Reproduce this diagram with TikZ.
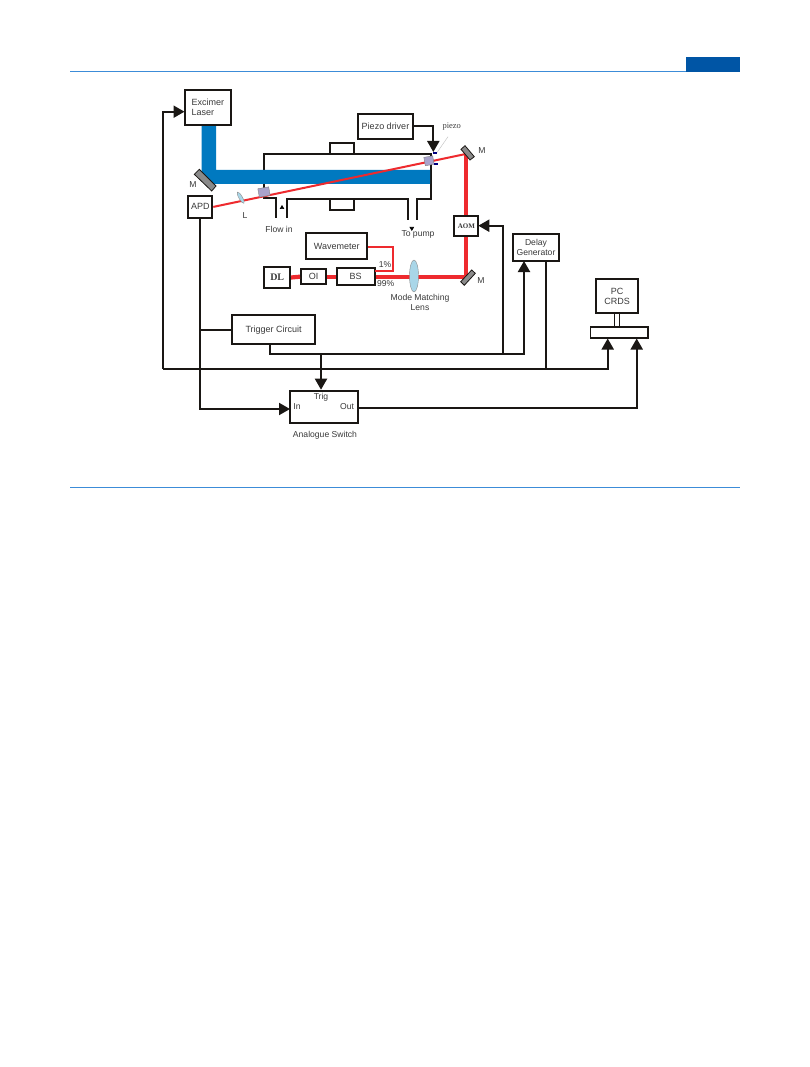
\documentclass[tikz,border=0pt]{standalone}
\usepackage{fontspec}
\setmainfont{Liberation Sans}
\newfontfamily\serifface{Liberation Serif}
\usetikzlibrary{arrows.meta,shapes.geometric}
\definecolor{pageblue}{HTML}{0055A5}
\definecolor{rulecol}{HTML}{3C8CD8}
\definecolor{beamblue}{HTML}{0079C0}
\definecolor{laserred}{HTML}{EE2A2E}
\definecolor{wire}{HTML}{1A1714}
\definecolor{inktext}{HTML}{3A3A3A}
\definecolor{mirrorgrey}{HTML}{8A8A8A}
\definecolor{lensblue}{HTML}{A9D6E8}
\definecolor{windowcol}{HTML}{A9A3CC}
\tikzset{
  box/.style={draw=wire,line width=2pt,fill=white,inner sep=0pt,align=center,font=\fontsize{9}{10}\selectfont,text=inktext},
  note/.style={inner sep=0pt,align=center,font=\fontsize{8.6}{9.6}\selectfont,text=inktext},
  sig/.style={draw=wire,line width=2pt},
  sigarrow/.style={sig,-{Triangle[length=11pt,width=12pt]}},
  tube/.style={draw=wire,line width=2pt},
  thinred/.style={draw=laserred,line width=2pt},
  thickred/.style={draw=laserred,line width=4.2pt},
  mirror/.style={draw=wire,line width=.8pt,fill=mirrorgrey},
  lens/.style={ellipse,draw=black!45,line width=.4pt,fill=lensblue,inner sep=0pt},
  cellwindow/.style={draw=black!50,line width=.4pt,fill=windowcol,inner sep=0pt}
}
\begin{document}
\begin{tikzpicture}[x=1pt,y=-1pt]
  \useasboundingbox[fill=white] (0,0) rectangle (809,1067);

  % page furniture
  \fill[pageblue] (686,57) rectangle (740,72);
  \fill[rulecol] (70,70.8) rectangle (686,71.9);
  \fill[rulecol] (70,486.5) rectangle (740,487.6);

  % gas cell outline
  \draw[tube] (276,218) -- (276,198) -- (264,198) -- (264,154.5) -- (430.7,154.5) -- (430.7,199) -- (417.3,199) -- (417.3,220);
  \draw[tube] (287,218) -- (287,199) -- (407.7,199) -- (407.7,220);
  \draw[tube] (330,154) -- (330,143.5) -- (354,143.5) -- (354,154);
  \draw[tube] (330,199) -- (330,210.5) -- (354,210.5) -- (354,199);

  % excimer beam
  \fill[beamblue] (201.7,125) -- (216,125) -- (216,170) -- (430,170) -- (430,184) -- (214,184) -- (201.7,172) -- cycle;

  % mirrors
  \draw[mirror] (199.3,169.3) -- (216,186) -- (211.7,191) -- (194.3,174.3) -- cycle;
  \node[note] (mleft) at (193,184.5) {M};

  % boxes
  \node[box,minimum width=46.5pt,minimum height=35pt,align=left] (excimer) at (207.75,107.5) {Excimer\\Laser};
  \node[box,minimum width=24pt,minimum height=21.7pt] (apd) at (200.3,206.9) {APD};
  \node[box,minimum width=55pt,minimum height=25pt] (piezodriver) at (385.5,126.5) {Piezo driver};
  \node[box,minimum width=24pt,minimum height=20pt,font=\serifface\bfseries\fontsize{7}{8}\selectfont] (aom) at (466.3,226) {AOM};
  \node[box,minimum width=61.3pt,minimum height=26pt] (wavemeter) at (336.7,246.3) {Wavemeter};
  \node[box,minimum width=25.7pt,minimum height=20.4pt,font=\serifface\bfseries\fontsize{10}{11}\selectfont] (dl) at (277.2,277.5) {DL};
  \node[box,minimum width=25pt,minimum height=15.3pt] (oi) at (313.5,276.7) {OI};
  \node[box,minimum width=38pt,minimum height=16.7pt] (bs) at (355.7,276.7) {BS};
  \node[box,minimum width=46.6pt,minimum height=26.4pt,line width=1.8pt,font=\fontsize{8.6}{9.4}\selectfont] (delay) at (536,247.5) {Delay\\Generator};
  \node[box,minimum width=82.7pt,minimum height=29.3pt] (trigger) at (273.6,329.7) {Trigger Circuit};
  \node[box,minimum width=67.7pt,minimum height=32.6pt] (switch) at (323.85,407) {};
  \node[box,minimum width=42.3pt,minimum height=34pt] (pc) at (617.2,296.3) {PC\\CRDS};
  \node[box,minimum width=57.4pt,minimum height=11pt,line width=1.6pt] (bar) at (619,332.5) {};

  % laser path
  \coordinate (mtop) at (465.7,154);
  \coordinate (mbot) at (465.7,277);
  \coordinate (wavecorner) at (393.3,246.7);
  \draw[thickred] (dl.east) -- (oi.west);
  \draw[thickred] (oi.east) -- (bs.west);
  \draw[thickred] (bs.east |- mbot) -- (mbot) -- (aom.south -| mbot);
  \draw[thickred] (aom.north -| mbot) -- (mtop);
  \draw[thinred,line width=2.2pt] (wavemeter.east |- wavecorner) -- (wavecorner) -- (393.3,271) -- (375,271);
  \draw[thinred] (apd.east) -- (mtop);

  % optics
  \draw[mirror] (461,149.3) -- (465,145.7) -- (474.3,156.7) -- (470,160) -- cycle;
  \draw[mirror] (460.7,281.7) -- (471.7,270) -- (475.3,273.3) -- (464.3,285.3) -- cycle;
  \node[lens,minimum width=9pt,minimum height=32pt] (mmlens) at (414,276) {};
  \node[lens,minimum width=3.5pt,minimum height=13pt,rotate=30] (llens) at (240.7,197.7) {};
  \node[cellwindow,minimum width=11pt,minimum height=8.5pt,rotate=10] (winleft) at (264,192) {};
  \node[cellwindow,minimum width=9pt,minimum height=8.5pt,rotate=10] (winright) at (429,160.8) {};

  % optical labels
  \node[note] (ml) at (245,215.5) {L};
  \node[note] (mtoplabel) at (482,150.5) {M};
  \node[note] (mbotlabel) at (481,280.5) {M};
  \node[note] (one) at (385,264.5) {1\%};
  \node[note] (ninetynine) at (385.7,284) {99\%};
  \node[note] (matching) at (420,302.5) {Mode Matching\\Lens};
  \node[note] (flowin) at (279,229) {Flow in};
  \node[note] (topump) at (418,234.5) {To pump};

  % flow markers
  \coordinate (flowtail) at (282,217);
  \coordinate (flowtip) at (282,205);
  \coordinate (pumptail) at (411.8,220);
  \coordinate (pumptip) at (411.8,231);
  \draw[white,line width=.6pt,-{Triangle[length=4pt,width=4.5pt,black]}] (flowtail) -- (flowtip);
  \draw[white,line width=.6pt,-{Triangle[length=4pt,width=4.5pt,black]}] (pumptail) -- (pumptip);

  % piezo
  \coordinate (piezotip) at (433.3,152);
  \node[inner sep=0pt,font=\serifface\fontsize{8.5}{9}\selectfont,text=black!75] (piezo) at (451.7,127) {piezo};
  \draw[black!25,line width=.4pt] (448,136.7) -- (436.7,153);
  \draw[sigarrow] (piezodriver.east) -| (piezotip);
  \fill[blue!50!black] (433,152.5) rectangle (437,154.5);
  \fill[blue!50!black] (434,163.5) rectangle (437.5,165.5);

  % electronics
  \coordinate (excin) at (184.5,111.7);
  \coordinate (busleft) at (163.3,368.7);
  \coordinate (busright) at (607.7,338.5);
  \coordinate (aomin) at (478.3,225.7);
  \coordinate (aomdrop) at (503.3,354.3);
  \coordinate (trigdrop) at (270,344.4);
  \coordinate (delayin) at (524,261);
  \coordinate (trigbus) at (321,354.3);
  \coordinate (switchin) at (290,409);
  \coordinate (switchout) at (357.7,407.7);
  \coordinate (barin) at (636.7,338.5);
  \draw[sigarrow] (busleft) |- (excin);
  \draw[sigarrow] (busleft) -| (busright);
  \draw[sig] (delay.south -| 546,0) -- (546,368.7);
  \draw[sig] (apd.south) -- (200.3,329.7) -- (trigger.west);
  \draw[sigarrow] (200.3,329.7) |- (switchin);
  \draw[sig] (trigdrop) |- (aomdrop);
  \draw[sigarrow] (aomdrop) |- (aomin);
  \draw[sigarrow] (aomdrop) -| (delayin);
  \draw[sigarrow] (trigbus) -- (switch.north -| trigbus);
  \draw[sigarrow] (switchout) -| (barin);
  \draw[wire,line width=1.3pt] (pc.south -| 614.7,0) -- (bar.north -| 614.7,0);
  \draw[wire,line width=1.3pt] (pc.south -| 619.5,0) -- (bar.north -| 619.5,0);

  % switch labels
  \node[note] (trig) at (321,397) {Trig};
  \node[note] (inlabel) at (297,407) {In};
  \node[note] (outlabel) at (347,407) {Out};
  \node[note] (analogue) at (325,435.7) {Analogue Switch};
\end{tikzpicture}
\end{document}
